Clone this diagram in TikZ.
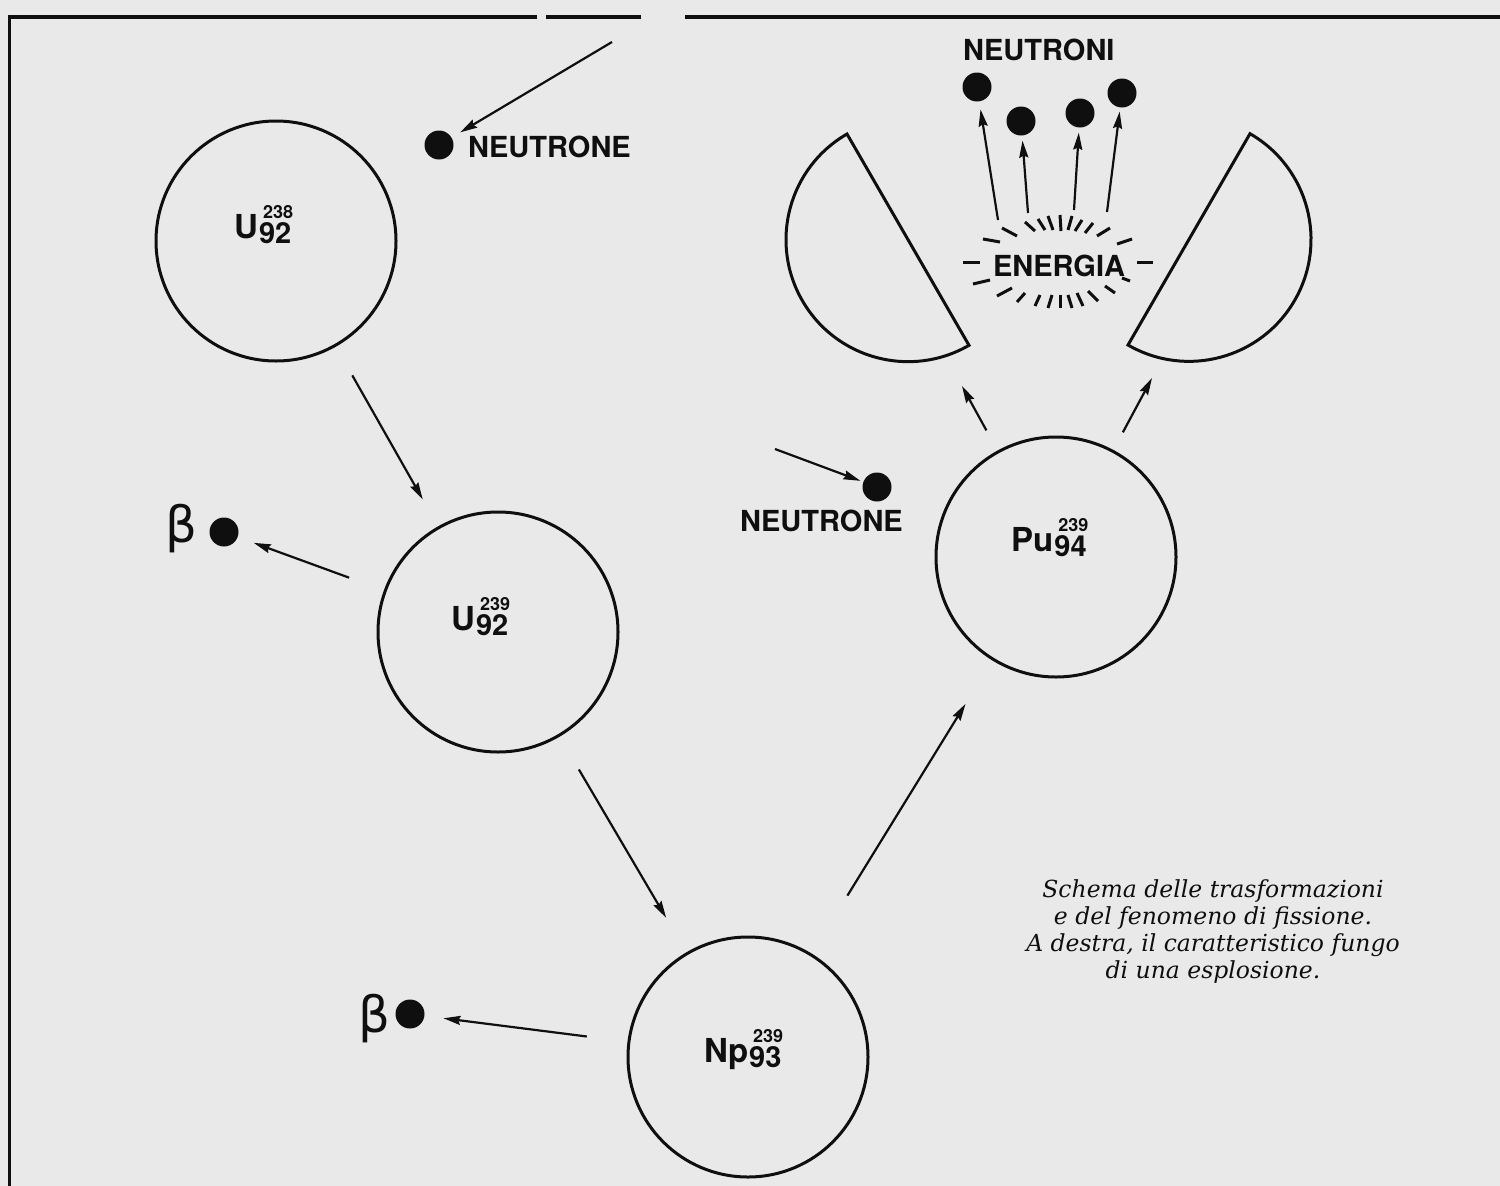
\documentclass[tikz,border=0pt]{standalone}
\usepackage{fontspec}
\setmainfont{TeX Gyre Heros}
\newfontfamily\capfont{DejaVu Serif}
\newfontfamily\betafont{DejaVu Sans}
\usetikzlibrary{arrows.meta,calc}
\definecolor{paper}{RGB}{233,233,233}
\definecolor{ink}{RGB}{15,15,15}
\newcommand{\nucl}[3]{{\fontsize{33}{33}\selectfont #1}\kern1pt\rlap{\kern4pt\raisebox{20pt}{\fontsize{18}{18}\selectfont #2}}\raisebox{-5pt}{\fontsize{29}{29}\selectfont #3}}
\begin{document}
\begin{tikzpicture}[x=1pt,y=-1pt,
  nucleus/.style={circle,draw=ink,line width=3pt,minimum size=240pt,inner sep=0pt},
  particle/.style={circle,fill=ink,minimum size=29pt,inner sep=0pt},
  arr/.style={draw=ink,line width=2.2pt,-{Stealth[length=17pt,width=9pt,inset=2pt]}},
  lab/.style={font=\bfseries\fontsize{29}{29}\selectfont,text=ink,inner sep=0pt},
  nuclab/.style={font=\bfseries,text=ink,inner sep=0pt,anchor=base west},
  betalab/.style={font=\betafont\fontsize{50}{50}\selectfont,text=ink,inner sep=0pt,anchor=base west},
  ray/.style={draw=ink,line width=3pt},
  piece/.style={draw=ink,line width=3pt,line join=miter},
  border/.style={draw=ink,line width=4pt}]
\fill[paper] (0,0) rectangle (1500,1186);
\useasboundingbox (0,0) rectangle (1500,1186);

% frame
\draw[border] (8,17) -- (537,17);
\draw[border] (546,17) -- (641,17);
\draw[border] (685,17) -- (1500,17);
\draw[ink,line width=3pt] (9,15) -- (9,1186);

% nuclei
\node[nucleus] (u238) at (276,241) {};
\node[nucleus] (u239) at (498,632) {};
\node[nucleus] (np239) at (748,1057) {};
\node[nucleus] (pu239) at (1056,557) {};
\node[nuclab] (u238l) at (234,238) {\nucl{U}{238}{92}};
\node[nuclab] (u239l) at (451,630) {\nucl{U}{239}{92}};
\node[nuclab] (np239l) at (704,1062) {\nucl{Np}{239}{93}};
\node[nuclab] (pu239l) at (1011,551) {\nucl{Pu}{239}{94}};

% neutrons
\node[particle] (n1) at (439,145) {};
\node[lab,anchor=base west] (n1l) at (468,157) {NEUTRONE};
\coordinate (n1s) at (612,42);
\draw[arr,shorten >=10pt] (n1s) -- (n1);

\node[particle] (n2) at (877,487) {};
\node[lab,anchor=base west] (n2l) at (740,531) {NEUTRONE};
\coordinate (n2s) at (775,449);
\draw[arr,shorten >=3pt] (n2s) -- (n2);

% beta particles
\node[particle] (b1) at (224,532) {};
\node[betalab] (b1l) at (165,542) {β};
\node[particle] (b2) at (410,1014) {};
\node[betalab] (b2l) at (358,1032) {β};

% transformation arrows
\draw[arr,shorten <=33pt,shorten >=31pt] (u238) -- (u239);
\draw[arr,shorten <=37pt,shorten >=17pt] (u239) -- (b1);
\draw[arr,shorten <=38pt,shorten >=40pt] (u239) -- (np239);
\draw[arr,shorten <=41pt,shorten >=19pt] (np239) -- (b2);
\draw[arr,shorten <=68pt,shorten >=51pt] (np239) -- (pu239);

% fission fragments
\draw[piece] (847,134) arc[start angle=120,end angle=300,radius=122pt] -- cycle;
\draw[piece] (1128,345) arc[start angle=240,end angle=420,radius=122pt] -- cycle;
\coordinate (lpa) at (962,386);
\coordinate (rpa) at (1152,378);
\draw[arr,shorten <=23pt] (pu239) -- (lpa);
\draw[arr,shorten <=20pt] (pu239) -- (rpa);

% energy burst
\node[lab,anchor=base] (en) at (1059,276) {ENERGIA};
\begin{scope}[shift={(1059,264)}]
\foreach \a/\b/\c/\d in {-76/-25/-59/-22, -57/-36/-42/-28, -34/-42/-24/-33, -21/-45/-14/-34,
  -11/-48/-6/-34, 1/-49/2/-33, 13/-48/9/-34, 23/-44/16/-33, 34/-41/26/-31, 51/-36/38/-28,
  73/-25/58/-20, -96/-2/-79/-2, 78/-2/94/-2,
  -86/20/-69/16, -62/32/-47/24, -42/38/-34/29, -24/42/-19/31, -11/44/-7/31, 1/44/1/31,
  13/44/9/31, 24/42/18/29, 39/37/29/27, 56/29/46/22, 71/17/63/14}
  \draw[ray] (\a,\b) -- (\c,\d);
\end{scope}

% emitted neutrons
\node[lab,anchor=base west] (nil) at (963,60) {NEUTRONI};
\node[particle] (m1) at (977,87) {};
\node[particle] (m2) at (1021,121) {};
\node[particle] (m3) at (1080,113) {};
\node[particle] (m4) at (1122,93) {};
\coordinate (m1s) at (998,220);
\coordinate (m2s) at (1028,213);
\coordinate (m3s) at (1074,210);
\coordinate (m4s) at (1107,212);
\draw[arr,shorten >=8pt] (m1s) -- (m1);
\draw[arr,shorten >=5pt] (m2s) -- (m2);
\draw[arr,shorten >=5pt] (m3s) -- (m3);
\draw[arr,shorten >=4pt] (m4s) -- (m4);

% caption
\node[font=\capfont\itshape\fontsize{23.5}{27}\selectfont,align=center,anchor=north,inner sep=0pt,text=ink] (cap) at (1213,879)
 {Schema delle trasformazioni\\e del fenomeno di fissione.\\A destra, il caratteristico fungo\\di una esplosione.};
\end{tikzpicture}
\end{document}
